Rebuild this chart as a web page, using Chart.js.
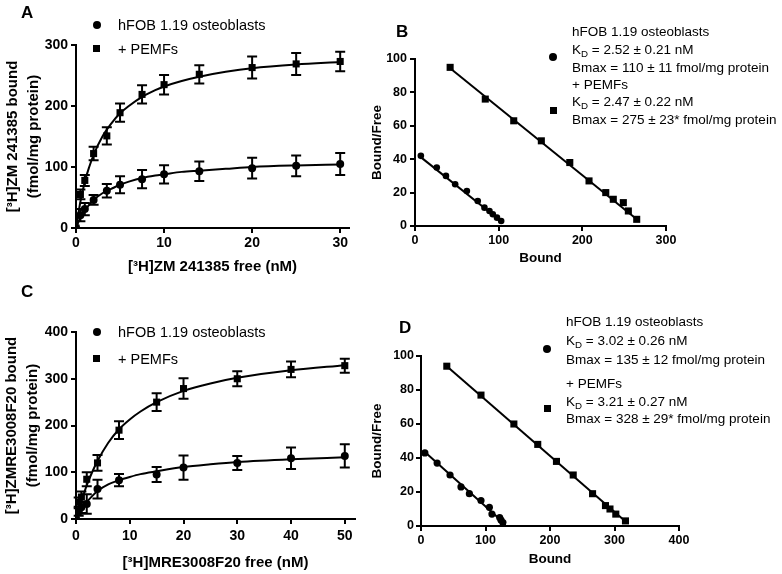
<!DOCTYPE html>
<html>
<head>
<meta charset="utf-8">
<script src="https://cdn.jsdelivr.net/npm/chart.js@4.4.1/dist/chart.umd.min.js"></script>
<style>
body { margin: 0; background: #fff; }
#wrap { position: relative; width: 782px; height: 574px; overflow: hidden; font-family: "Liberation Sans", Arial, sans-serif; color: #000; }
canvas { position: absolute; }
.lbl { position: absolute; font-weight: bold; font-size: 17px; line-height: 20px; }
.t { position: absolute; white-space: nowrap; line-height: 18px; }
.big { font-size: 14.5px; }
.small { font-size: 13.5px; }
.dot { position: absolute; width: 8px; height: 8px; border-radius: 50%; background: #000; }
.sq { position: absolute; width: 7px; height: 7px; background: #000; }
sub { font-size: 0.72em; vertical-align: -0.3em; line-height: 0; }
</style>
</head>
<body>
<div id="wrap">
  <canvas id="chartA" width="360" height="287" style="left:0;top:0"></canvas>
  <canvas id="chartB" width="422" height="287" style="left:360px;top:0"></canvas>
  <canvas id="chartC" width="360" height="287" style="left:0;top:287px"></canvas>
  <canvas id="chartD" width="422" height="287" style="left:360px;top:287px"></canvas>

  <div class="lbl" style="left:21px;top:3px">A</div>
  <div class="lbl" style="left:396px;top:22px">B</div>
  <div class="lbl" style="left:21px;top:282px">C</div>
  <div class="lbl" style="left:399px;top:318px">D</div>

  <!-- legend A -->
  <div class="dot" style="left:93px;top:21px"></div>
  <div class="t big" style="left:118px;top:16px">hFOB 1.19 osteoblasts</div>
  <div class="sq" style="left:93px;top:45px"></div>
  <div class="t big" style="left:118px;top:40px">+ PEMFs</div>

  <!-- legend C -->
  <div class="dot" style="left:93px;top:328px"></div>
  <div class="t big" style="left:118px;top:323px">hFOB 1.19 osteoblasts</div>
  <div class="sq" style="left:93px;top:355px"></div>
  <div class="t big" style="left:118px;top:350px">+ PEMFs</div>

  <!-- legend B -->
  <div class="dot" style="left:549px;top:53px"></div>
  <div class="sq" style="left:550px;top:107px"></div>
  <div class="t small" style="left:572px;top:23px">hFOB 1.19 osteoblasts</div>
  <div class="t small" style="left:572px;top:41px">K<sub>D</sub> = 2.52 ± 0.21 nM</div>
  <div class="t small" style="left:572px;top:59px">Bmax = 110 ± 11 fmol/mg protein</div>
  <div class="t small" style="left:572px;top:76px">+ PEMFs</div>
  <div class="t small" style="left:572px;top:93px">K<sub>D</sub> = 2.47 ± 0.22 nM</div>
  <div class="t small" style="left:572px;top:111px">Bmax = 275 ± 23* fmol/mg protein</div>

  <!-- legend D -->
  <div class="dot" style="left:543px;top:345px"></div>
  <div class="sq" style="left:544px;top:405px"></div>
  <div class="t small" style="left:566px;top:313px">hFOB 1.19 osteoblasts</div>
  <div class="t small" style="left:566px;top:332px">K<sub>D</sub> = 3.02 ± 0.26 nM</div>
  <div class="t small" style="left:566px;top:351px">Bmax = 135 ± 12 fmol/mg protein</div>
  <div class="t small" style="left:566px;top:375px">+ PEMFs</div>
  <div class="t small" style="left:566px;top:393px">K<sub>D</sub> = 3.21 ± 0.27 nM</div>
  <div class="t small" style="left:566px;top:410px">Bmax = 328 ± 29* fmol/mg protein</div>
</div>

<script>
// panel A - saturation, ZM 241385
var aFree = [0, 0.5, 1, 2, 3.5, 5, 7.5, 10, 14, 20, 25, 30];
var aCtrl = [0, 21, 31, 46, 61, 71, 80, 88, 93, 98, 102, 105];
var aCtrlErr = [0, 10, 10, 8, 11, 14, 15, 15, 16, 17, 17, 18];
var aPemf = [0, 55, 78, 122, 151, 189, 219, 235, 252, 263, 269, 273];
var aPemfErr = [0, 8, 9, 11, 14, 15, 15, 16, 15, 18, 18, 16];
var aFitX = [0, 0.5, 1, 1.5, 2, 3, 4, 5, 6, 7.5, 9, 10, 12, 14, 17, 20, 25, 30];
var aCtrlFit = [0, 17, 29, 38, 46, 57, 64, 71, 76, 82, 86, 88, 92, 94, 97, 100, 102.5, 104];
var aPemfFit = [0, 43, 76, 100, 120, 150, 171, 188, 200, 215, 226, 232, 241, 248, 256, 262, 268, 272];
var aXTicks = [0, 10, 20, 30];
var aYTicks = [0, 100, 200, 300];

// panel B - scatchard, ZM 241385
var bCtrlX = [7, 26, 37, 48, 62, 75, 83, 89, 93, 98, 103];
var bCtrlY = [42, 35, 30, 25, 21, 15, 11, 9, 7, 5, 3];
var bPemfX = [42, 84, 118, 151, 185, 208, 228, 237, 249, 255, 265];
var bPemfY = [95, 76, 63, 51, 38, 27, 20, 16, 14, 9, 4];
var bCtrlLineX = [5, 104];
var bCtrlLineY = [42, 2.4];
var bPemfLineX = [42, 268];
var bPemfLineY = [94.5, 2.8];
var bXTicks = [0, 100, 200, 300];
var bYTicks = [0, 20, 40, 60, 80, 100];

// panel C - saturation, MRE3008F20
var cFree = [0, 0.5, 1, 2, 4, 8, 15, 20, 30, 40, 50];
var cCtrl = [0, 15, 25, 32, 64, 83, 95, 110, 120, 130, 135];
var cCtrlErr = [0, 8, 12, 21, 20, 13, 16, 26, 15, 23, 25];
var cPemf = [0, 36, 47, 85, 120, 190, 250, 279, 300, 320, 328];
var cPemfErr = [0, 10, 12, 15, 17, 19, 19, 22, 16, 17, 15];
var cFitX = [0, 1, 2, 3, 4, 6, 8, 10, 12, 15, 20, 25, 30, 40, 50];
var cCtrlFit = [0, 20, 36, 49, 60, 74, 83, 90, 96, 102, 111, 117, 122, 128, 132];
var cPemfFit = [0, 38, 72, 100, 124, 163, 192, 213, 230, 250, 274, 290, 302, 318, 329];
var cXTicks = [0, 10, 20, 30, 40, 50];
var cYTicks = [0, 100, 200, 300, 400];

// panel D - scatchard, MRE3008F20
var dCtrlX = [6, 25, 45, 62, 75, 93, 106, 110, 122, 124, 127];
var dCtrlY = [43, 37, 30, 23, 19, 15, 11, 7, 5, 3.5, 2];
var dPemfX = [40, 93, 144, 181, 210, 236, 266, 286, 293, 302, 317];
var dPemfY = [94, 77, 60, 48, 38, 30, 19, 12, 10, 7, 3];
var dCtrlLineX = [6, 130];
var dCtrlLineY = [43.5, 1.3];
var dPemfLineX = [40, 318];
var dPemfLineY = [94, 2.3];
var dXTicks = [0, 100, 200, 300, 400];
var dYTicks = [0, 20, 40, 60, 80, 100];

Chart.defaults.font.family = '"Liberation Sans", Arial, sans-serif';
Chart.defaults.color = '#000';

function pts(xs, ys) {
    return xs.map(function(x, i) { return {x: x, y: ys[i]}; });
}

// vertical SEM bars with caps
var errorBars = {
    id: 'errorBars',
    afterDatasetsDraw: function(chart) {
        var ctx = chart.ctx;
        var xs = chart.scales.x, ys = chart.scales.y;
        chart.data.datasets.forEach(function(ds) {
            if (!ds.errors) return;
            ctx.save();
            ctx.strokeStyle = '#000';
            ctx.lineWidth = 2;
            ds.data.forEach(function(p, i) {
                var e = ds.errors[i];
                if (!e) return;
                var px = xs.getPixelForValue(p.x);
                var top = ys.getPixelForValue(p.y + e);
                var bot = ys.getPixelForValue(p.y - e);
                ctx.beginPath();
                ctx.moveTo(px, top); ctx.lineTo(px, bot);
                ctx.moveTo(px - 5, top); ctx.lineTo(px + 5, top);
                ctx.moveTo(px - 5, bot); ctx.lineTo(px + 5, bot);
                ctx.stroke();
            });
            ctx.restore();
        });
    }
};

function axis(o) {
    return {
        type: 'linear',
        position: o.pos,
        min: o.min,
        max: o.max,
        afterBuildTicks: function(s) { s.ticks = o.ticks.map(function(v) { return {value: v}; }); },
        afterFit: function(s) {
            if (o.pos === 'left') s.width = o.size; else s.height = o.size;
        },
        grid: {drawOnChartArea: false, drawTicks: true, tickLength: 5, color: '#000', lineWidth: 2},
        border: {display: true, color: '#000', width: 2},
        ticks: {font: {size: o.tickSize, weight: 'bold'}, padding: o.tickPad, color: '#000'},
        title: {
            display: true,
            text: o.title,
            color: '#000',
            font: {size: o.titleSize, weight: 'bold', lineHeight: o.lh},
            padding: o.titlePad
        }
    };
}

function pointSet(label, xs, ys, errs, style, r) {
    return {
        label: label, data: pts(xs, ys), errors: errs,
        pointStyle: style, pointRadius: r, pointHoverRadius: r,
        backgroundColor: '#000', borderColor: '#000', borderWidth: 0, order: 1
    };
}

function lineSet(xs, ys, curved) {
    return {
        data: pts(xs, ys), showLine: true, pointRadius: 0, pointHoverRadius: 0,
        borderColor: '#000', borderWidth: 2, fill: false, order: 2,
        cubicInterpolationMode: curved ? 'monotone' : 'default'
    };
}

function makeChart(id, datasets, pad, xAxis, yAxis) {
    return new Chart(document.getElementById(id), {
        type: 'scatter',
        data: {datasets: datasets},
        options: {
            responsive: false,
            animation: false,
            layout: {padding: pad},
            plugins: {legend: {display: false}, tooltip: {enabled: false}},
            scales: {x: axis(xAxis), y: axis(yAxis)}
        },
        plugins: [errorBars]
    });
}

makeChart('chartA', [
    pointSet('hFOB 1.19 osteoblasts', aFree, aCtrl, aCtrlErr, 'circle', 4),
    pointSet('+ PEMFs', aFree, aPemf, aPemfErr, 'rect', 5),
    lineSet(aFitX, aCtrlFit, true),
    lineSet(aFitX, aPemfFit, true)
], {left: 0, top: 45, right: 11, bottom: 0},
{pos: 'bottom', min: 0, max: 31, ticks: aXTicks, size: 59, tickSize: 14, tickPad: 2,
 title: '[³H]ZM 241385 free (nM)', titleSize: 15, lh: 1.2, titlePad: {top: 0, bottom: 11}},
{pos: 'left', min: 0, max: 300, ticks: aYTicks, size: 76, tickSize: 14, tickPad: 3,
 title: ['[³H]ZM 241385 bound', '(fmol/mg protein)'], titleSize: 15, lh: 1.35, titlePad: {top: 3, bottom: 0}});

makeChart('chartB', [
    pointSet('hFOB 1.19 osteoblasts', bCtrlX, bCtrlY, null, 'circle', 3.3),
    pointSet('+ PEMFs', bPemfX, bPemfY, null, 'rect', 5),
    lineSet(bCtrlLineX, bCtrlLineY, false),
    lineSet(bPemfLineX, bPemfLineY, false)
], {left: 0, top: 59, right: 116, bottom: 0},
{pos: 'bottom', min: 0, max: 300, ticks: bXTicks, size: 61, tickSize: 12.5, tickPad: 2,
 title: 'Bound', titleSize: 13.5, lh: 1.2, titlePad: {top: 0, bottom: 21}},
{pos: 'left', min: 0, max: 100, ticks: bYTicks, size: 55, tickSize: 12.5, tickPad: 3,
 title: 'Bound/Free', titleSize: 13.5, lh: 1.2, titlePad: {top: 9, bottom: 0}});

makeChart('chartC', [
    pointSet('hFOB 1.19 osteoblasts', cFree, cCtrl, cCtrlErr, 'circle', 4),
    pointSet('+ PEMFs', cFree, cPemf, cPemfErr, 'rect', 5),
    lineSet(cFitX, cCtrlFit, true),
    lineSet(cFitX, cPemfFit, true)
], {left: 0, top: 45, right: 3, bottom: 0},
{pos: 'bottom', min: 0, max: 51.9, ticks: cXTicks, size: 55, tickSize: 14, tickPad: 4,
 title: '[³H]MRE3008F20 free (nM)', titleSize: 15, lh: 1.2, titlePad: {top: 0, bottom: 2}},
{pos: 'left', min: 0, max: 400, ticks: cYTicks, size: 76, tickSize: 14, tickPad: 3,
 title: ['[³H]ZMRE3008F20 bound', '(fmol/mg protein)'], titleSize: 15, lh: 1.35, titlePad: {top: 2, bottom: 0}});

makeChart('chartD', [
    pointSet('hFOB 1.19 osteoblasts', dCtrlX, dCtrlY, null, 'circle', 3.6),
    pointSet('+ PEMFs', dPemfX, dPemfY, null, 'rect', 5),
    lineSet(dCtrlLineX, dCtrlLineY, false),
    lineSet(dPemfLineX, dPemfLineY, false)
], {left: 0, top: 69, right: 103, bottom: 0},
{pos: 'bottom', min: 0, max: 400, ticks: dXTicks, size: 48, tickSize: 12.5, tickPad: 2,
 title: 'Bound', titleSize: 13.5, lh: 1.2, titlePad: {top: 0, bottom: 7}},
{pos: 'left', min: 0, max: 100, ticks: dYTicks, size: 61, tickSize: 12.5, tickPad: 2,
 title: 'Bound/Free', titleSize: 13.5, lh: 1.2, titlePad: {top: 9, bottom: 0}});
</script>
</body>
</html>
